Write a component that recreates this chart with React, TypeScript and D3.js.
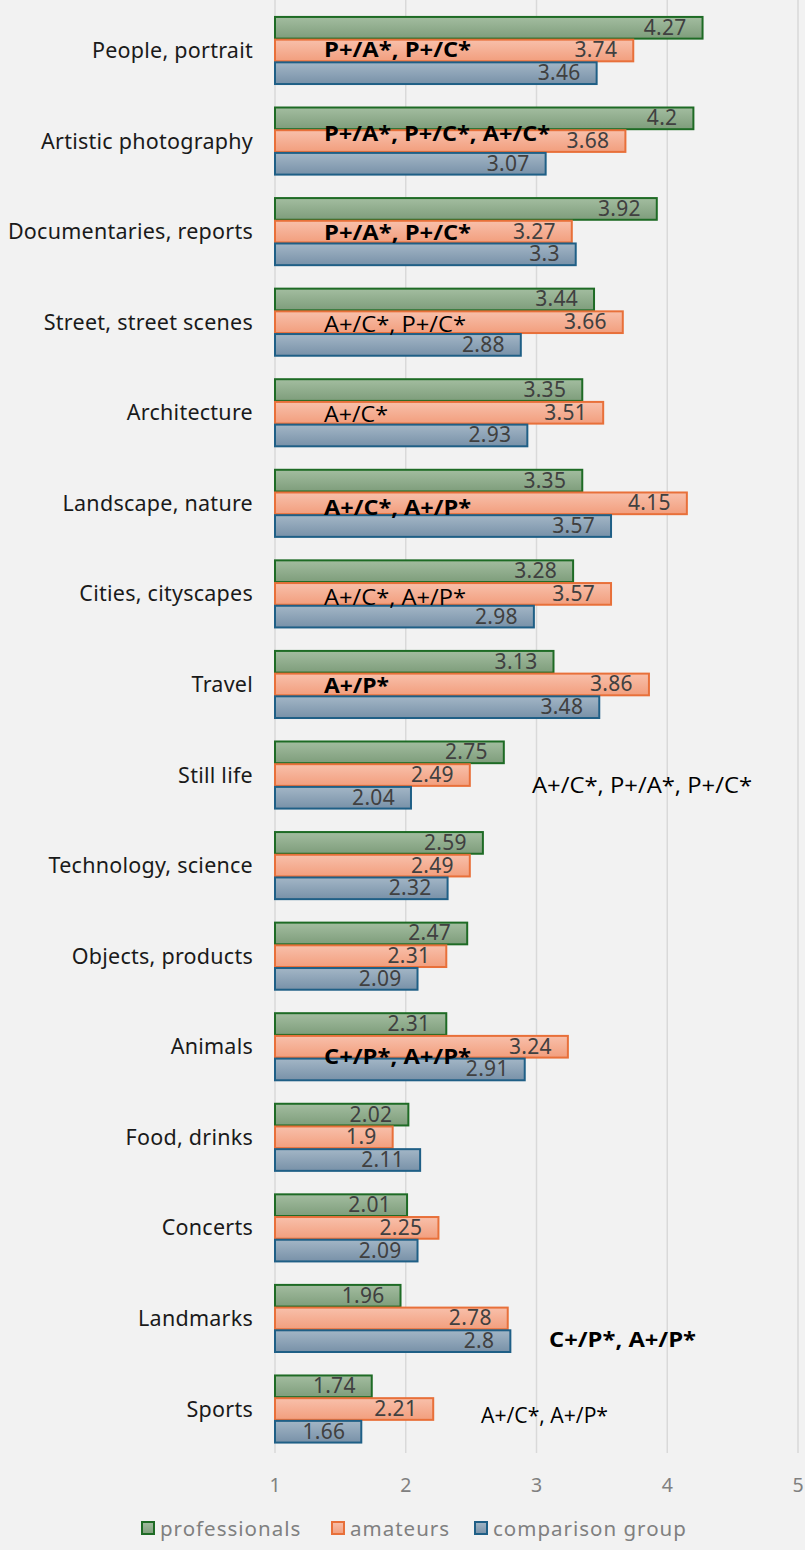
import React, { useRef, useEffect } from 'react';
import * as d3 from 'd3';

const categories = [
  'People, portrait', 'Artistic photography', 'Documentaries, reports', 'Street, street scenes',
  'Architecture', 'Landscape, nature', 'Cities, cityscapes', 'Travel', 'Still life',
  'Technology, science', 'Objects, products', 'Animals', 'Food, drinks', 'Concerts',
  'Landmarks', 'Sports',
];

const professionals = [4.27, 4.2, 3.92, 3.44, 3.35, 3.35, 3.28, 3.13, 2.75, 2.59, 2.47, 2.31, 2.02, 2.01, 1.96, 1.74];
const amateurs = [3.74, 3.68, 3.27, 3.66, 3.51, 4.15, 3.57, 3.86, 2.49, 2.49, 2.31, 3.24, 1.9, 2.25, 2.78, 2.21];
const comparison = [3.46, 3.07, 3.3, 2.88, 2.93, 3.57, 2.98, 3.48, 2.04, 2.32, 2.09, 2.91, 2.11, 2.09, 2.8, 1.66];

const seriesNames = ['professionals', 'amateurs', 'comparison group'];
const xTicks = [1, 2, 3, 4, 5];

// significance notes per category
const notes = [
  { cat: 'People, portrait', text: 'P+/A*, P+/C*', bold: true },
  { cat: 'Artistic photography', text: 'P+/A*, P+/C*, A+/C*', bold: true },
  { cat: 'Documentaries, reports', text: 'P+/A*, P+/C*', bold: true },
  { cat: 'Street, street scenes', text: 'A+/C*, P+/C*', bold: false },
  { cat: 'Architecture', text: 'A+/C*', bold: false },
  { cat: 'Landscape, nature', text: 'A+/C*, A+/P*', bold: true },
  { cat: 'Cities, cityscapes', text: 'A+/C*, A+/P*', bold: false },
  { cat: 'Travel', text: 'A+/P*', bold: true },
  { cat: 'Still life', text: 'A+/C*, P+/A*, P+/C*', bold: false },
  { cat: 'Animals', text: 'C+/P*, A+/P*', bold: true },
  { cat: 'Landmarks', text: 'C+/P*, A+/P*', bold: true },
  { cat: 'Sports', text: 'A+/C*, A+/P*', bold: false },
];
// where each note sits: x in axis units, dy from band centre, width in px
const notePos = [
  [1.375, 7, 147], [1.375, 0, 226], [1.375, 9, 147], [1.375, 10, 142], [1.375, 9.5, 64],
  [1.375, 12, 147], [1.375, 11.5, 142], [1.375, 9, 65], [2.966, 18.5, 220], [1.375, 18, 147],
  [3.096, 29, 147], [2.576, 14.5, 127],
];

const colors = [
  { top: '#a3bda0', bottom: '#7e9d7b', stroke: '#1e6b25' },
  { top: '#f8c0ab', bottom: '#f29e7d', stroke: '#e8703a' },
  { top: '#a3b6c6', bottom: '#7891a8', stroke: '#1f5f86' },
];

const App: React.FC = () => {
  const svgRef = useRef<SVGSVGElement | null>(null);

  useEffect(() => {
    if (!svgRef.current) return;
    const width = 805;
    const height = 1550;
    const svg = d3.select(svgRef.current);
    svg.selectAll('*').remove();
    svg.attr('width', width).attr('height', height).style('background', '#f2f2f2');

    const x = d3.scaleLinear().domain([1, 5]).range([275, 798]);
    const y = d3.scaleBand().domain(categories).range([4.7, 1453.8]);
    const barH = 22.7;
    const groupH = barH * 3;

    const defs = svg.append('defs');
    colors.forEach((c, i) => {
      const g = defs.append('linearGradient').attr('id', `grad${i}`)
        .attr('x1', 0).attr('y1', 0).attr('x2', 0).attr('y2', 1);
      g.append('stop').attr('offset', '0%').attr('stop-color', c.top);
      g.append('stop').attr('offset', '100%').attr('stop-color', c.bottom);
    });

    // gridlines
    svg.append('g').selectAll('line')
      .data(xTicks)
      .enter().append('line')
      .attr('x1', (d) => x(d)).attr('x2', (d) => x(d))
      .attr('y1', 0).attr('y2', 1453)
      .attr('stroke', '#d9d9d9').attr('stroke-width', 1.5);

    svg.append('g').selectAll('text')
      .data(xTicks)
      .enter().append('text')
      .attr('x', (d) => x(d)).attr('y', 1492)
      .attr('text-anchor', 'middle')
      .text((d) => d)
      .style('fill', '#808080')
      .style('font-family', 'Noto Sans')
      .style('font-size', '19.5px');

    // category labels
    svg.append('g').selectAll('text')
      .data(categories)
      .enter().append('text')
      .attr('x', 253)
      .attr('y', (d) => (y(d) as number) + y.bandwidth() / 2 + 8)
      .attr('text-anchor', 'end')
      .text((d) => d)
      .style('fill', '#1a1a1a')
      .style('font-family', 'Noto Sans')
      .style('font-size', '21.5px')
      .style('letter-spacing', '0.25px');

    const series = [professionals, amateurs, comparison];
    series.forEach((vals, s) => {
      const g = svg.append('g');
      const rows = vals.map((v, i) => ({ cat: categories[i], v }));
      const top = (d: { cat: string }) => (y(d.cat) as number) + (y.bandwidth() - groupH) / 2 + s * barH;
      g.selectAll('rect')
        .data(rows)
        .enter().append('rect')
        .attr('x', x(1))
        .attr('y', (d) => top(d) + 1)
        .attr('width', (d) => x(d.v) - x(1))
        .attr('height', barH - 1)
        .attr('fill', `url(#grad${s})`)
        .attr('stroke', colors[s].stroke)
        .attr('stroke-width', 2);
      g.selectAll('text')
        .data(rows)
        .enter().append('text')
        .attr('x', (d) => x(d.v) - 16)
        .attr('y', (d) => top(d) + barH / 2 + 7.5)
        .attr('text-anchor', 'end')
        .text((d) => d.v)
        .style('fill', '#404040')
        .style('font-family', 'Noto Sans')
        .style('font-size', '21px')
        .style('letter-spacing', '0.3px');
    });

    // significance notes
    svg.append('g').selectAll('text')
      .data(notes)
      .enter().append('text')
      .attr('x', (d, i) => x(notePos[i][0]))
      .attr('y', (d, i) => (y(d.cat) as number) + y.bandwidth() / 2 + notePos[i][1])
      .attr('textLength', (d, i) => notePos[i][2])
      .attr('lengthAdjust', 'spacingAndGlyphs')
      .text((d) => d.text)
      .style('fill', '#000')
      .style('font-family', 'Open Sans')
      .style('font-weight', (d) => (d.bold ? 700 : 400))
      .style('font-size', '21px');

    // legend
    const legendX = [141, 331, 474];
    const leg = svg.append('g');
    seriesNames.forEach((name, i) => {
      leg.append('rect')
        .attr('x', legendX[i] + 1).attr('y', 1522)
        .attr('width', 12).attr('height', 12)
        .attr('fill', `url(#grad${i})`)
        .attr('stroke', colors[i].stroke)
        .attr('stroke-width', 2);
      leg.append('text')
        .attr('x', legendX[i] + 19).attr('y', 1536)
        .text(name)
        .style('fill', '#808080')
        .style('font-family', 'Noto Sans')
        .style('font-size', '20.5px')
        .style('letter-spacing', '1px');
    });
  }, []);

  return <svg ref={svgRef} style={{ position: 'absolute', left: 0, top: 0 }}></svg>;
};

export default App;
